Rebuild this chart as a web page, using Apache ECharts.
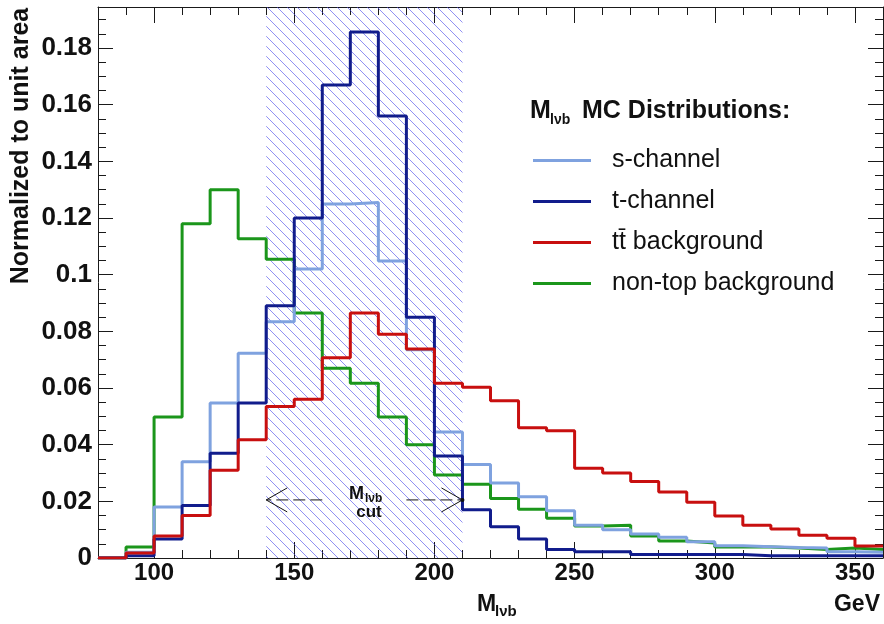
<!DOCTYPE html>
<html><head><meta charset="utf-8">
<script src="https://cdn.jsdelivr.net/npm/echarts@6/dist/echarts.min.js"></script>
<style>html,body{margin:0;padding:0;background:#fff}#c{width:884px;height:624px}</style>
</head><body><div id="c"></div>
<script>
// ---- data (bins of 10 GeV, low edges) ----
const binLow = [80,90,100,110,120,130,140,150,160,170,180,190,200,210,220,230,240,250,260,270,280,290,300,310,320,330,340,350];
const binHigh = 360;
const sChannel = [0,0.002,0.018,0.034,0.0547,0.0723,0.0834,0.102,0.125,0.1255,0.1048,0.0735,0.0445,0.033,0.0265,0.0216,0.0167,0.0116,0.010,0.0085,0.0073,0.0057,0.0043,0.004,0.0037,0.0035,0.0022,0.002];
const tChannel = [0,0.0008,0.0067,0.0185,0.037,0.0547,0.089,0.120,0.167,0.1857,0.156,0.085,0.036,0.017,0.011,0.0067,0.003,0.0022,0.0022,0.0012,0.0012,0.0012,0.0012,0.0008,0.0008,0.0008,0.0008,0.0008];
const ttbar = [0,0.0018,0.0078,0.015,0.031,0.0417,0.0535,0.056,0.0707,0.0865,0.079,0.0738,0.0617,0.0603,0.0555,0.046,0.0449,0.0317,0.030,0.027,0.0233,0.0197,0.0148,0.0116,0.0102,0.008,0.007,0.0042];
const nonTop = [0,0.0039,0.0498,0.118,0.130,0.1127,0.1055,0.0865,0.067,0.0617,0.0498,0.040,0.0293,0.026,0.021,0.0172,0.014,0.0113,0.0116,0.0078,0.006,0.0053,0.0039,0.0039,0.0035,0.003,0.0035,0.003];
const seriesNames = ['s-channel','t-channel','tt\u0304 background','non-top background'];
const xTickLabels = [100,150,200,250,300,350];
const yTickLabels = [0,0.02,0.04,0.06,0.08,0.1,0.12,0.14,0.16,0.18];
const cutRange = [140,210];
const cutArrowFrom = [160,190];
const cutArrowY = 0.0205;

// ---- styles ----
const colors = ['#7fa2df','#111c8c','#c80f0f','#1b961b'];
const zOrder = [4,5,6,3];
const FONT = '"Liberation Sans", Arial, Helvetica, sans-serif';
const xMin = 80, xMax = 360, yMin = 0, yMax = 0.1945;
const xMinor = binLow.concat([binHigh]);
const yMinor = [];
for (let i = 0; i * 0.005 <= yMax + 1e-9; i++) yMinor.push(+(i * 0.005).toFixed(3));

function hist(vals) {
  const d = binLow.map((x, i) => [x, vals[i]]);
  d.push([binHigh, vals[vals.length - 1]]);
  return d;
}

// hatch pattern
const T = 10;
const pc = document.createElement('canvas');
pc.width = T; pc.height = T;
const g = pc.getContext('2d');
g.strokeStyle = 'rgba(70,70,235,0.6)';
g.lineWidth = 1;
g.beginPath(); g.moveTo(-1,-1); g.lineTo(T+1,T+1); g.stroke();

const lineCol = '#1a1a1a';
function xAx(pos, major) {
  return {
    type:'value', min:xMin, max:xMax, position:pos, gridIndex:0,
    splitLine:{show:false},
    axisLine:{show:major, onZero:false, lineStyle:{color:lineCol, width:1}},
    axisTick:{show:true, inside:true, length: major?16:8, customValues: major?xTickLabels:xMinor, lineStyle:{color:lineCol, width:1}},
    axisLabel:(major && pos==='bottom') ? {show:true, customValues:xTickLabels, margin:3, fontSize:24, fontWeight:'bold', fontFamily:FONT, color:'#111'} : {show:false}
  };
}
function yAx(pos, major) {
  return {
    type:'value', min:yMin, max:yMax, position:pos, gridIndex:0,
    splitLine:{show:false},
    axisLine:{show:major, onZero:false, lineStyle:{color:lineCol, width:1}},
    axisTick:{show:true, inside:true, length: major?15:8, customValues: major?yTickLabels:yMinor, lineStyle:{color:lineCol, width:1}},
    axisLabel:(major && pos==='left') ? {show:true, customValues:yTickLabels, margin:6, fontSize:26, fontWeight:'bold', fontFamily:FONT, color:'#111', formatter:v=>String(+v.toFixed(2))} : {show:false}
  };
}

const vals = [sChannel, tChannel, ttbar, nonTop];
const series = vals.map((v, i) => ({
  type:'line', name:seriesNames[i], data:hist(v), step:'end',
  symbol:'none', showSymbol:false, z: zOrder[i],
  lineStyle:{width:3, color:colors[i]}, itemStyle:{color:colors[i]},
  xAxisIndex:0, yAxisIndex:0, animation:false
}));
series.push({
  type:'line', name:'cut', data:[], xAxisIndex:0, yAxisIndex:0, animation:false,
  markArea:{silent:true, itemStyle:{color:{image:pc, repeat:'repeat'}, borderWidth:0},
    data:[[{xAxis:cutRange[0]},{xAxis:cutRange[1]}]]}
});

function txt(text, x, y, size, opts) {
  return Object.assign({type:'text', x:x, y:y, silent:true, z:100,
    style:Object.assign({text:text, fontSize:size, fontWeight:'bold', fontFamily:FONT, fill:'#111', align:'left', verticalAlign:'middle'}, opts && opts.style || {})},
    opts && opts.el || {});
}
const texts = [
  txt('Normalized to unit area', 21, 146, 25, {style:{align:'center'}, el:{rotation:Math.PI/2}}),
  txt('M', 530, 111, 25),
  txt('l\u03bdb', 550, 120, 14),
  txt('MC Distributions:', 582, 111, 25),
  txt('M', 477, 605, 23),
  txt('l\u03bdb', 495, 612, 15),
  txt('GeV', 880, 605, 23, {style:{align:'right'}}),
  txt('M', 349, 494, 18),
  txt('l\u03bdb', 365, 499, 12),
  txt('cut', 369, 512, 17, {style:{align:'center'}})
];

const chart = echarts.init(document.getElementById('c'), null, {renderer:'canvas'});
chart.setOption({
  animation:false,
  backgroundColor:'#fff',
  grid:{left:98, right:1, top:7, bottom:66, containLabel:false},
  xAxis:[xAx('bottom',true), xAx('bottom',false), xAx('top',true), xAx('top',false)],
  yAxis:[yAx('left',true), yAx('left',false), yAx('right',true), yAx('right',false)],
  legend:{data:seriesNames, orient:'vertical', left:528, top:143, itemWidth:58, itemHeight:3, itemGap:16,
    icon:'rect', selectedMode:false,
    textStyle:{fontSize:25, fontFamily:FONT, color:'#111', padding:[0,0,0,16]}},
  series:series,
  graphic:texts
});

// cut arrows (annotation), placed through the chart's own coordinate conversion
const arrows = [];
[0,1].forEach(i => {
  const a = chart.convertToPixel({gridIndex:0}, [cutArrowFrom[i], cutArrowY]);
  const b = chart.convertToPixel({gridIndex:0}, [cutRange[i], cutArrowY]);
  const dir = b[0] > a[0] ? 1 : -1;
  const st = {stroke:'#111', lineWidth:1};
  arrows.push({type:'line', silent:true, z:90, shape:{x1:a[0], y1:a[1], x2:b[0], y2:b[1]}, style:Object.assign({lineDash:[12,5]}, st)});
  arrows.push({type:'polyline', silent:true, z:90, shape:{points:[[b[0]-dir*21, b[1]-12],[b[0], b[1]],[b[0]-dir*21, b[1]+12]]}, style:Object.assign({fill:null}, st)});
  if (i === 1) arrows.push({type:'circle', silent:true, z:91, shape:{cx:b[0], cy:b[1], r:2}, style:{fill:'#111'}});
});
chart.setOption({graphic: texts.concat(arrows)});
</script></body></html>
